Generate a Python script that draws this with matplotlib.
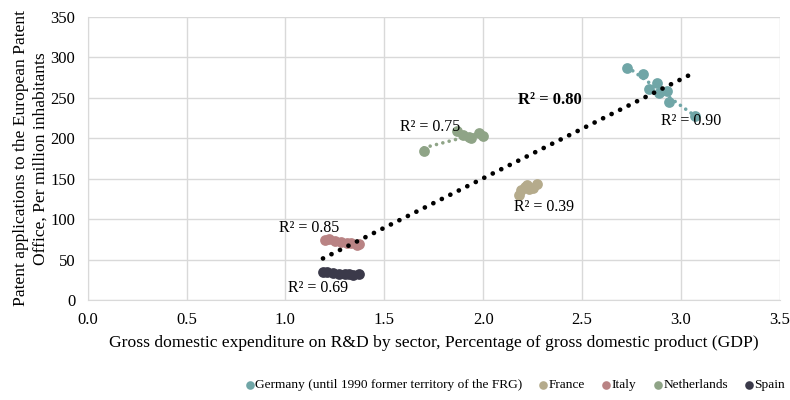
import numpy as np
import matplotlib
matplotlib.use("Agg")
import matplotlib.pyplot as plt

plt.rcParams["font.family"] = ["Liberation Serif", "DejaVu Serif"]

# R&D expenditure (% of GDP) vs patent applications per million inhabitants
germany_x = [2.73, 2.81, 2.84, 2.88, 2.89, 2.93, 2.94, 3.07]
germany_y = [287, 280, 261, 268, 256, 259, 245, 228]

france_x = [2.18, 2.19, 2.21, 2.22, 2.23, 2.25, 2.27]
france_y = [130, 136, 140, 142, 137, 139, 144]

italy_x = [1.20, 1.22, 1.25, 1.28, 1.31, 1.33, 1.36, 1.37]
italy_y = [74, 75, 73, 72, 71, 70, 68, 69]

netherlands_x = [1.70, 1.87, 1.90, 1.93, 1.94, 1.98, 2.00]
netherlands_y = [184, 209, 204, 201, 200, 207, 203]

spain_x = [1.19, 1.21, 1.24, 1.27, 1.30, 1.32, 1.34, 1.37]
spain_y = [35, 35, 33, 32, 32, 32, 31, 32]

names = ["Germany (until 1990 former territory of the FRG)", "France", "Italy",
         "Netherlands", "Spain"]
colors = ["#70a6a7", "#b5ab8c", "#b98384", "#8fa487", "#3b3a4a"]
r2_labels = ["R² = 0.90", "R² = 0.39", "R² = 0.85", "R² = 0.75", "R² = 0.69"]
r2_pos = [(3.05, 221), (2.31, 115), (1.12, 89), (1.73, 214), (1.165, 15)]

series = [(germany_x, germany_y), (france_x, france_y), (italy_x, italy_y),
          (netherlands_x, netherlands_y), (spain_x, spain_y)]

fig = plt.figure(figsize=(7.9, 4.0), dpi=100)
ax = fig.add_axes([0.111, 0.25, 0.876, 0.7075])

for (xs, ys), name, c in zip(series, names, colors):
    ax.scatter(xs, ys, s=60, color=c, label=name, zorder=3, linewidths=0)
    k, b = np.polyfit(xs, ys, 1)
    tx = np.array([min(xs), max(xs)])
    ax.plot(tx, k * tx + b, color=c, lw=2.6, linestyle=(0, (0.01, 1.8)),
            dash_capstyle="round", zorder=2)

all_x = np.concatenate([np.array(s[0]) for s in series])
all_y = np.concatenate([np.array(s[1]) for s in series])
k, b = np.polyfit(all_x, all_y, 1)
tx = np.array([all_x.min(), all_x.max()])
ax.plot(tx, k * tx + b, color="black", lw=3.4, linestyle=(0, (0.01, 2.0)),
        dash_capstyle="round", zorder=4)

for txt, (px, py) in zip(r2_labels, r2_pos):
    ax.text(px, py, txt, ha="center", va="center", fontsize=11.5, zorder=5)
ax.text(2.34, 247, "R² = 0.80", ha="center", va="center", fontsize=12,
        fontweight="bold", zorder=5)

ax.set_xlim(0, 3.5)
ax.set_ylim(0, 350)
ax.set_xticks(np.arange(0, 3.51, 0.5))
ax.set_yticks(np.arange(0, 351, 50))
ax.xaxis.set_major_formatter(matplotlib.ticker.FormatStrFormatter("%.1f"))
ax.tick_params(length=0, labelsize=12, pad=9)
ax.grid(color="#d9d9d9", lw=1)
ax.set_axisbelow(True)
for sp in ["top", "right"]:
    ax.spines[sp].set_visible(False)
for sp in ["left", "bottom"]:
    ax.spines[sp].set_color("#d9d9d9")

ax.set_xlabel("Gross domestic expenditure on R&D by sector, Percentage of gross domestic product (GDP)",
              fontsize=12.6, labelpad=5)
ax.set_ylabel("Patent applications to the European Patent\nOffice, Per million inhabitants",
              fontsize=12.6, labelpad=1, linespacing=1.35)

ax.legend(loc="center right", bbox_to_anchor=(1.008, -0.3), ncol=5, frameon=False,
          fontsize=9.6, handletextpad=-0.2, columnspacing=1.0, markerscale=0.8,
          handlelength=1.2, borderaxespad=0, borderpad=0)

fig.savefig("out.png", dpi=100)
